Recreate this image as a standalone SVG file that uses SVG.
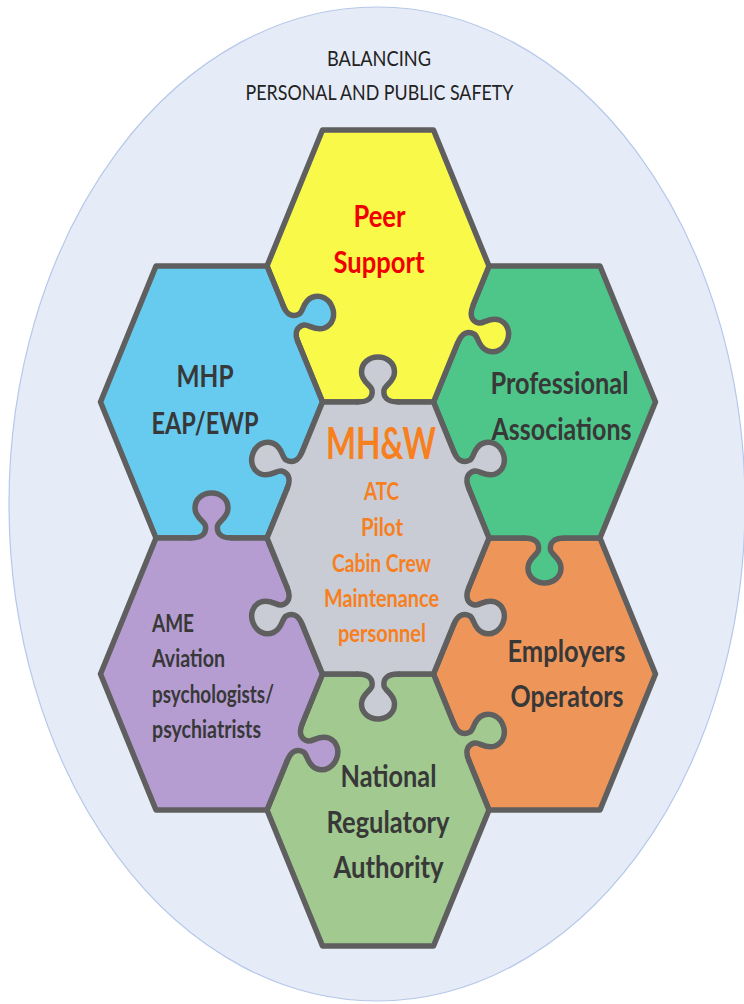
<svg xmlns="http://www.w3.org/2000/svg" xmlns:xlink="http://www.w3.org/1999/xlink" width="744" height="1004" viewBox="0 0 744 1004">
<style>
.hex{stroke:#5F5F5F;stroke-width:5.5;stroke-linejoin:round}
.kl{fill:none;stroke:#5F5F5F;stroke-width:5.5;stroke-linecap:round;stroke-linejoin:round}
.t{font-family:Lato,"Liberation Sans",sans-serif;font-weight:700;fill:#383838}
.big{font-size:31px;text-anchor:middle}
.sm{font-size:24px}
.mid{text-anchor:middle}
.or{fill:#F77F1E}
.title{font-family:Lato,"Liberation Sans",sans-serif;font-weight:400;font-size:21px;fill:#222;text-anchor:middle}
</style>
<defs>
<path id="kf" d="M -20 0 C -9 0 -5 -5 -6 -12 C -7 -17 -16.5 -20 -16.5 -30 C -16.5 -39 -9 -45 0 -45 C 9 -45 16.5 -39 16.5 -30 C 16.5 -20 7 -17 6 -12 C 5 -5 9 0 20 0 L 20 4 L -20 4 Z"/>
<path id="kline" d="M -20 0 C -9 0 -5 -5 -6 -12 C -7 -17 -16.5 -20 -16.5 -30 C -16.5 -39 -9 -45 0 -45 C 9 -45 16.5 -39 16.5 -30 C 16.5 -20 7 -17 6 -12 C 5 -5 9 0 20 0"/>
</defs>
<rect width="744" height="1004" fill="#FFFFFF"/>
<ellipse cx="377" cy="504" rx="368" ry="497" fill="#E6ECF7" stroke="#B5C8EA" stroke-width="1.2"/>
<g id="title">
<text class="title" x="379" y="66" textLength="104" lengthAdjust="spacingAndGlyphs">BALANCING</text>
<text class="title" x="379.5" y="100" textLength="268" lengthAdjust="spacingAndGlyphs">PERSONAL AND PUBLIC SAFETY</text>
</g>
<g id="employers">
<polygon class="hex" fill="#EE965A" points="433.5,674 489,538 600,538 655.5,674 600,810 489,810"/>
<text class="t big" x="566.5" y="662" textLength="118" lengthAdjust="spacingAndGlyphs">Employers</text>
<text class="t big" x="567" y="707" textLength="113" lengthAdjust="spacingAndGlyphs">Operators</text>
</g>
<g id="professional">
<polygon class="hex" fill="#4EC689" points="433.5,402 489,266 600,266 655.5,402 600,538 489,538"/>
<use href="#kf" fill="#4EC689" transform="translate(544.5,538) rotate(180)"/>
<use href="#kline" class="kl" transform="translate(544.5,538) rotate(180)"/>
<text class="t big" x="559.5" y="394" textLength="138" lengthAdjust="spacingAndGlyphs">Professional</text>
<text class="t big" x="561.5" y="440" textLength="140" lengthAdjust="spacingAndGlyphs">Associations</text>
</g>
<g id="peer">
<polygon class="hex" fill="#F9F94A" points="267,266 322.5,130 433.5,130 489,266 433.5,402 322.5,402"/>
<use href="#kf" fill="#F9F94A" transform="translate(465.5,324) rotate(112.2)"/>
<use href="#kline" class="kl" transform="translate(465.5,324) rotate(112.2)"/>
<text class="t big" x="379.5" y="227" textLength="52" lengthAdjust="spacingAndGlyphs" style="fill:#F00000">Peer</text>
<text class="t big" x="379" y="273" textLength="91" lengthAdjust="spacingAndGlyphs" style="fill:#F00000">Support</text>
</g>
<g id="mhp">
<polygon class="hex" fill="#67CBF0" points="100.5,402 156,266 267,266 322.5,402 267,538 156,538"/>
<use href="#kf" fill="#67CBF0" transform="translate(290.5,324) rotate(67.8)"/>
<use href="#kline" class="kl" transform="translate(290.5,324) rotate(67.8)"/>
<text class="t big" x="205" y="387" textLength="57" lengthAdjust="spacingAndGlyphs">MHP</text>
<text class="t big" x="205" y="434" textLength="107" lengthAdjust="spacingAndGlyphs">EAP/EWP</text>
</g>
<g id="regulator">
<polygon class="hex" fill="#A1C990" points="267,810 322.5,674 433.5,674 489,810 433.5,946 322.5,946"/>
<use href="#kf" fill="#A1C990" transform="translate(461.25,742) rotate(67.8)"/>
<use href="#kline" class="kl" transform="translate(461.25,742) rotate(67.8)"/>
<text class="t big" x="388.5" y="787" textLength="96" lengthAdjust="spacingAndGlyphs">National</text>
<text class="t big" x="388" y="833" textLength="123" lengthAdjust="spacingAndGlyphs">Regulatory</text>
<text class="t big" x="388.5" y="878" textLength="110" lengthAdjust="spacingAndGlyphs">Authority</text>
</g>
<g id="ame">
<polygon class="hex" fill="#B59DD2" points="100.5,674 156,538 267,538 322.5,674 267,810 156,810"/>
<use href="#kf" fill="#B59DD2" transform="translate(211.5,538)"/>
<use href="#kline" class="kl" transform="translate(211.5,538)"/>
<use href="#kf" fill="#B59DD2" transform="translate(294.75,742) rotate(112.2)"/>
<use href="#kline" class="kl" transform="translate(294.75,742) rotate(112.2)"/>
<text class="t sm" x="152" y="632" textLength="42" lengthAdjust="spacingAndGlyphs">AME</text>
<text class="t sm" x="152" y="667" textLength="73" lengthAdjust="spacingAndGlyphs">Aviation</text>
<text class="t sm" x="152" y="703" textLength="122" lengthAdjust="spacingAndGlyphs">psychologists/</text>
<text class="t sm" x="152" y="738" textLength="109" lengthAdjust="spacingAndGlyphs">psychiatrists</text>
</g>
<g id="mhw">
<polygon class="hex" fill="#C9CCD4" points="267,538 322.5,402 433.5,402 489,538 433.5,674 322.5,674"/>
<use href="#kf" fill="#C9CCD4" transform="translate(378,402)"/>
<use href="#kline" class="kl" transform="translate(378,402)"/>
<use href="#kf" fill="#C9CCD4" transform="translate(294.75,470) rotate(-67.8)"/>
<use href="#kline" class="kl" transform="translate(294.75,470) rotate(-67.8)"/>
<use href="#kf" fill="#C9CCD4" transform="translate(461.25,470) rotate(67.8)"/>
<use href="#kline" class="kl" transform="translate(461.25,470) rotate(67.8)"/>
<use href="#kf" fill="#C9CCD4" transform="translate(294.75,606) rotate(-112.2)"/>
<use href="#kline" class="kl" transform="translate(294.75,606) rotate(-112.2)"/>
<use href="#kf" fill="#C9CCD4" transform="translate(461.25,606) rotate(112.2)"/>
<use href="#kline" class="kl" transform="translate(461.25,606) rotate(112.2)"/>
<use href="#kf" fill="#C9CCD4" transform="translate(378,674) rotate(180)"/>
<use href="#kline" class="kl" transform="translate(378,674) rotate(180)"/>
<text class="t mid or" x="381" y="459" font-size="43" textLength="110" lengthAdjust="spacingAndGlyphs">MH&amp;W</text>
<text class="t sm mid or" x="381.5" y="500" textLength="35" lengthAdjust="spacingAndGlyphs">ATC</text>
<text class="t sm mid or" x="382" y="536" textLength="42" lengthAdjust="spacingAndGlyphs">Pilot</text>
<text class="t sm mid or" x="381.5" y="572" textLength="99" lengthAdjust="spacingAndGlyphs">Cabin Crew</text>
<text class="t sm mid or" x="381.5" y="607" textLength="115" lengthAdjust="spacingAndGlyphs">Maintenance</text>
<text class="t sm mid or" x="382" y="642" textLength="88" lengthAdjust="spacingAndGlyphs">personnel</text>
</g>
</svg>
